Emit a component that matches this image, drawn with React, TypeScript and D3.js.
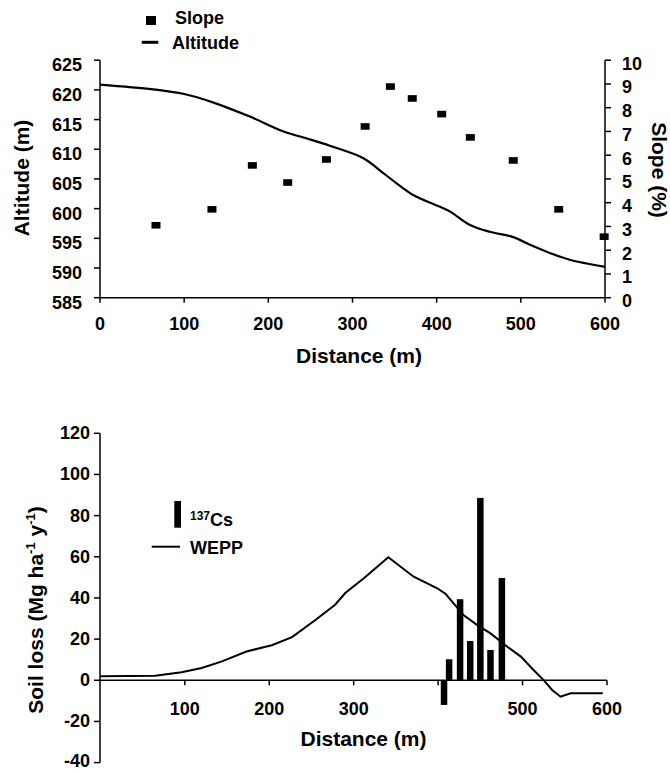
import React from "react";
import * as d3 from "d3";

// ---------- Top chart data ----------
const altDist = [0, 63, 100, 134, 178, 218, 245, 273, 313, 332, 352, 372, 404, 416, 439, 463, 491, 511, 535, 558, 600];
const altValues = [620.9, 620.1, 619.3, 617.9, 615.5, 613.0, 611.85, 610.6, 608.5, 606.5, 604.3, 602.3, 600.3, 599.5, 597.3, 596.1, 595.2, 593.9, 592.5, 591.4, 590.2];
const slopeDist = [66.5, 133, 181, 223, 269, 315, 345, 371, 406, 440, 491, 545, 599];
const slopeValues = [3.05, 3.72, 5.57, 4.85, 5.82, 7.21, 8.89, 8.39, 7.73, 6.75, 5.78, 3.72, 2.57];
const altTicks = [585, 590, 595, 600, 605, 610, 615, 620, 625];
const slopeTicks = [0, 1, 2, 3, 4, 5, 6, 7, 8, 9, 10];
const distTicksTop = [0, 100, 200, 300, 400, 500, 600];

// ---------- Bottom chart data ----------
const weppDist = [0, 65, 96, 120, 144, 173, 203, 227, 255, 278, 290, 312, 341, 371, 399, 409, 430, 446, 462, 482, 498, 513, 525, 535, 545, 557, 595];
const weppValues = [1.9, 2.2, 3.9, 6, 9.2, 14, 17, 21, 29.4, 36.7, 42.4, 49.6, 59.8, 50.3, 44.7, 41.9, 31.7, 26.9, 22.8, 16.3, 11.5, 5, 0.1, -4.7, -8, -6.3, -6.3];
const csDist = [407, 413, 426, 438, 450, 462, 475.5];
const csValues = [-12, 10.2, 39.4, 19.1, 88.6, 14.7, 49.7];
const lossTicks = [-40, -20, 0, 20, 40, 60, 80, 100, 120];
const distTickMarksBottom = [100, 200, 300, 400, 500, 600];
const distLabelsBottom = [100, 200, 300, 500, 600];

const FONT = "'Liberation Sans', Arial, Helvetica, sans-serif";

export default function App() {
  const xTop = d3.scaleLinear().domain([0, 600]).range([100, 605]);
  const yAlt = d3.scaleLinear().domain([585, 625]).range([297.7, 60.2]);
  const ySlope = d3.scaleLinear().domain([0, 10]).range([297.7, 60.2]);

  const xBot = d3.scaleLinear().domain([0, 600]).range([100.4, 607]);
  const yLoss = d3.scaleLinear().domain([-40, 120]).range([762.6, 433.3]);

  const altLine = d3
    .line<number>()
    .x((_, i) => xTop(altDist[i]))
    .y((d) => yAlt(d))
    .curve(d3.curveCatmullRom.alpha(0.5))(altValues) as string;

  const weppLine = d3
    .line<number>()
    .x((_, i) => xBot(weppDist[i]))
    .y((d) => yLoss(d))
    .curve(d3.curveLinear)(weppValues) as string;

  const barW = 6.5;
  const axisStroke = 1.5;

  return (
    <svg
      width={670}
      height={771}
      style={{ position: "absolute", left: 0, top: 0, background: "#fff" }}
      fontFamily={FONT}
      fontWeight="bold"
    >
      <rect x={0} y={0} width={670} height={771} fill="#fff" />

      {/* ===== TOP CHART ===== */}
      <rect x={146} y={16} width={10} height={9} fill="#000" />
      <text x={175} y={23.5} fontSize={18}>Slope</text>
      <line x1={141.7} x2={158.3} y1={42.3} y2={42.3} stroke="#000" strokeWidth={3} />
      <text x={172} y={49} fontSize={18}>Altitude</text>

      <line x1={100} x2={100} y1={yAlt(625)} y2={yAlt(585)} stroke="#000" strokeWidth={axisStroke} />
      <line x1={xTop(600)} x2={xTop(600)} y1={ySlope(10)} y2={ySlope(0)} stroke="#000" strokeWidth={axisStroke} />
      <line x1={xTop(0)} x2={xTop(600)} y1={yAlt(585)} y2={yAlt(585)} stroke="#000" strokeWidth={axisStroke} />

      {altTicks.map((t) => (
        <g key={"at" + t}>
          <line x1={94} x2={100} y1={yAlt(t)} y2={yAlt(t)} stroke="#000" strokeWidth={axisStroke} />
          <text x={82} y={yAlt(t) + 11} fontSize={18} textAnchor="end">{t}</text>
        </g>
      ))}
      {slopeTicks.map((t) => (
        <g key={"st" + t}>
          <line x1={xTop(600)} x2={xTop(600) + 6} y1={ySlope(t)} y2={ySlope(t)} stroke="#000" strokeWidth={axisStroke} />
          <text x={622} y={ySlope(t) + 9.5} fontSize={18} textAnchor="start">{t}</text>
        </g>
      ))}
      {distTicksTop.map((t) => (
        <g key={"dt" + t}>
          <line x1={xTop(t)} x2={xTop(t)} y1={yAlt(585)} y2={yAlt(585) + 5} stroke="#000" strokeWidth={axisStroke} />
          <text x={xTop(t)} y={329.5} fontSize={18} textAnchor="middle">{t}</text>
        </g>
      ))}

      <text x={359} y={363} fontSize={21} textAnchor="middle">Distance (m)</text>
      <text transform={`translate(29,178) rotate(-90)`} fontSize={21} textAnchor="middle">Altitude (m)</text>
      <text transform={`translate(652,170) rotate(90)`} fontSize={21} textAnchor="middle">Slope (%)</text>

      <path d={altLine} fill="none" stroke="#000" strokeWidth={2.2} />
      {slopeValues.map((v, i) => (
        <rect key={"sq" + i} x={xTop(slopeDist[i]) - 4.5} y={ySlope(v) - 3.3} width={9} height={6.6} fill="#000" />
      ))}

      {/* ===== BOTTOM CHART ===== */}
      <rect x={174.3} y={501} width={6.7} height={26.7} fill="#000" />
      <text x={190} y={526} fontSize={18}>
        <tspan fontSize={12} dy={-6}>137</tspan>
        <tspan dy={6}>Cs</tspan>
      </text>
      <line x1={151.7} x2={180} y1={546.7} y2={546.7} stroke="#000" strokeWidth={2} />
      <text x={190} y={553.5} fontSize={18}>WEPP</text>

      <line x1={100} x2={100} y1={yLoss(120)} y2={yLoss(-40)} stroke="#000" strokeWidth={axisStroke} />
      <line x1={xBot(0)} x2={xBot(600)} y1={yLoss(0)} y2={yLoss(0)} stroke="#000" strokeWidth={axisStroke} />
      {lossTicks.map((t) => (
        <g key={"lt" + t}>
          <line x1={94} x2={100} y1={yLoss(t)} y2={yLoss(t)} stroke="#000" strokeWidth={axisStroke} />
          <text x={90} y={Math.min(yLoss(t) + 6, 766.5)} fontSize={18} textAnchor="end">{t}</text>
        </g>
      ))}
      {distTickMarksBottom.map((t) => (
        <line key={"bt" + t} x1={xBot(t)} x2={xBot(t)} y1={yLoss(0)} y2={yLoss(0) + 5} stroke="#000" strokeWidth={axisStroke} />
      ))}
      {distLabelsBottom.map((t) => (
        <text key={"bl" + t} x={xBot(t)} y={714.5} fontSize={18} textAnchor="middle">{t}</text>
      ))}

      <text x={363.5} y={745.5} fontSize={21} textAnchor="middle">Distance (m)</text>
      <text transform={`translate(43,610) rotate(-90)`} fontSize={21} textAnchor="middle">
        Soil loss (Mg ha<tspan fontSize={13} dy={-8}>-1</tspan>
        <tspan dy={8}> y</tspan>
        <tspan fontSize={13} dy={-8}>-1</tspan>
        <tspan dy={8}>)</tspan>
      </text>

      <path d={weppLine} fill="none" stroke="#000" strokeWidth={2} />
      {csValues.map((v, i) => (
        <rect
          key={"cs" + i}
          x={xBot(csDist[i]) - barW / 2}
          y={yLoss(Math.max(0, v))}
          width={barW}
          height={Math.abs(yLoss(v) - yLoss(0))}
          fill="#000"
        />
      ))}
    </svg>
  );
}
